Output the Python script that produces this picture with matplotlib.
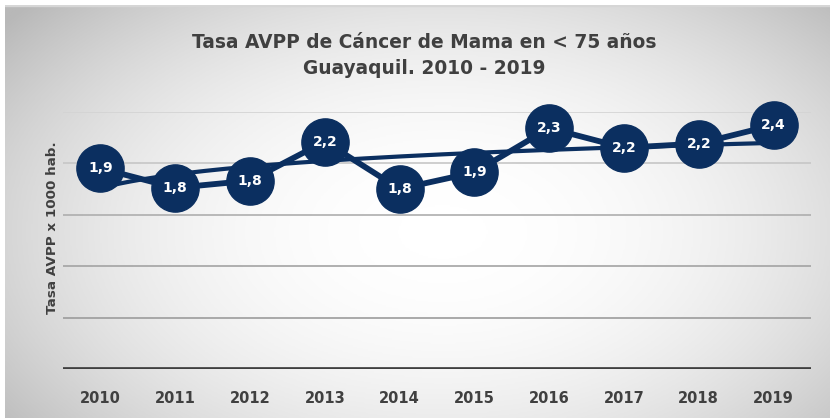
import numpy as np
import matplotlib.pyplot as plt
from matplotlib.patches import Rectangle
from matplotlib.colors import LinearSegmentedColormap

# Tasa AVPP de cancer de mama (< 75 anos), Guayaquil
years = ["2010", "2011", "2012", "2013", "2014", "2015", "2016", "2017", "2018", "2019"]
tasa = [1.95, 1.76, 1.83, 2.21, 1.75, 1.91, 2.34, 2.15, 2.19, 2.37]
labels = ["1,9", "1,8", "1,8", "2,2", "1,8", "1,9", "2,3", "2,2", "2,2", "2,4"]
grid_vals = [0.5, 1.0, 1.5, 2.0, 2.5]

navy = "#0b2f60"
gray_txt = "#404040"

W, H = 830, 418
fig = plt.figure(figsize=(W / 100, H / 100), dpi=100)
fig.patch.set_facecolor("white")

# card with radial gradient background
bg = fig.add_axes([5 / W, 0, 1 - 5 / W, 1 - 5 / H])
bg.set_axis_off()
yy, xx = np.mgrid[0:1:300j, 0:1:600j]
r = np.sqrt(((xx - 0.53) / 0.70) ** 2 + ((yy - 0.55) / 0.85) ** 2)
shade = np.clip(1 - 0.3 * r ** 2.2, 0.72, 1)
cmap = LinearSegmentedColormap.from_list("g", ["#b8b8b8", "#ffffff"])
bg.imshow(shade, cmap=cmap, vmin=0.72, vmax=1, extent=[0, 1, 0, 1],
          aspect="auto", origin="upper", interpolation="bilinear")
bg.add_patch(Rectangle((0, 0.997), 1, 0.003, color="#d6d6d6", transform=bg.transAxes))
bg.set_xlim(0, 1)
bg.set_ylim(0, 1)

ax = fig.add_axes([63 / W, 49 / H, 748 / W, 257.3 / H])
ax.patch.set_alpha(0)
x = np.arange(len(years))

grid_cols = ["#9c9c9c", "#a3a3a3", "#aeaeae", "#c6c6c6", "#d3d3d3"]
for g, c in zip(grid_vals, grid_cols):
    ax.axhline(g, color=c, lw=1.2, zorder=1)
ax.axhline(0, color="#3f3f3f", lw=3.4, zorder=2)

# logarithmic trendline (as Excel): y = a*ln(x) + b, x = 1..n
a, b = np.polyfit(np.log(x + 1), tasa, 1)
xt = np.linspace(0, len(years) - 1, 200)
ax.plot(xt, a * np.log(xt + 1) + b, color=navy, lw=3, zorder=3,
        solid_capstyle="round", clip_on=False)

ax.plot(x, tasa, color=navy, lw=4.2, marker="o", markersize=34,
        markerfacecolor=navy, markeredgecolor=navy, zorder=4, clip_on=False)

for xi, v, lab in zip(x, tasa, labels):
    ax.text(xi, v, lab, color="white", fontsize=10, fontweight="bold",
            ha="center", va="center", zorder=5)

ax.set_xlim(-0.5, len(years) - 0.5)
ax.set_ylim(0, 2.5)
ax.set_xticks(x)
ax.set_xticklabels(years, fontsize=10.5, fontweight="bold", color=gray_txt)
ax.tick_params(axis="x", length=0, pad=16)
ax.set_yticks([])
for s in ax.spines.values():
    s.set_visible(False)

fig.text(52 / W, 1 - 228 / H, "Tasa AVPP x 1000 hab.", rotation=90,
         fontsize=9.7, fontweight="bold", color=gray_txt, ha="center", va="center")

fig.text(424 / W, 1 - 42 / H, "Tasa AVPP de Cáncer de Mama en < 75 años",
         fontsize=13.4, fontweight="bold", color=gray_txt, ha="center", va="center")
fig.text(424 / W, 1 - 68 / H, "Guayaquil. 2010 - 2019",
         fontsize=13.4, fontweight="bold", color=gray_txt, ha="center", va="center")

fig.savefig("out.png", dpi=100)
